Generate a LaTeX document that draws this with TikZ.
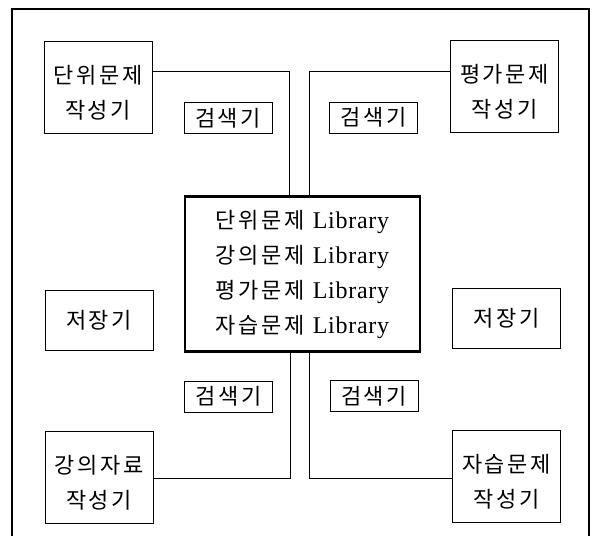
\documentclass[tikz,border=0pt]{standalone}
\usepackage{fontspec}
\setmainfont{Liberation Serif}
\newfontfamily\kr{Noto Sans CJK KR}[LetterSpace=12]
\newfontfamily\lat{Liberation Serif}[LetterSpace=3]
\newcommand\lowerstrut{\rule{0pt}{29pt}}
\begin{document}
\begin{tikzpicture}[x=1pt,y=-1pt,
  box/.style={draw,line width=0.8pt,inner sep=0pt,align=center,font=\kr\fontsize{22}{35}\selectfont},
  srch/.style={box,minimum width=88pt,minimum height=31pt},
  gen/.style={box,minimum width=108pt,minimum height=92pt},
  store/.style={box,minimum width=108pt,minimum height=60pt},
  lib/.style={draw,line width=2.4pt,inner sep=0pt,align=center,minimum width=235pt,minimum height=155pt,font=\fontsize{22}{35}\selectfont},
  conn/.style={line width=0.8pt}]
\useasboundingbox (0,0) rectangle (596,535);
\fill[white] (0,0) rectangle (596,535);
% outer frame (bottom edge outside the picture)
\draw[line width=2.4pt] (12,545) -- (12,9) -- (589,9) -- (589,545);
% nodes
\node[gen] (tl) at (98,87.5) {\lowerstrut 단위문제\\작성기};
\node[gen] (tr) at (504.5,86) {\lowerstrut 평가문제\\작성기};
\node[gen] (bl) at (99,477) {\lowerstrut 강의자료\\작성기};
\node[gen] (br) at (506.5,476.5) {\lowerstrut 자습문제\\작성기};
\node[store] (sl) at (99,320) {저장기};
\node[store] (sr) at (506.5,318) {저장기};
\node[srch] (s1) at (228,118) {검색기};
\node[srch] (s2) at (373.5,117.5) {검색기};
\node[srch] (s3) at (228.5,396.5) {검색기};
\node[srch] (s4) at (374,396) {검색기};
\node[lib] (lib) at (302.5,274) {{\kr 단위문제}\hspace{8pt}{\lat\fontsize{24}{35}\selectfont Library}\\{\kr 강의문제}\hspace{8pt}{\lat\fontsize{24}{35}\selectfont Library}\\{\kr 평가문제}\hspace{8pt}{\lat\fontsize{24}{35}\selectfont Library}\\{\kr 자습문제}\hspace{8pt}{\lat\fontsize{24}{35}\selectfont Library}};
% junction points
\coordinate (j1) at (289,71);
\coordinate (j2) at (309,71);
\coordinate (j3) at (290,478);
\coordinate (j4) at (309,478);
% connectors
\draw[conn] (tl.east |- j1) -- (j1) -- (j1 |- lib.north);
\draw[conn] (tr.west |- j2) -- (j2) -- (j2 |- lib.north);
\draw[conn] (bl.east |- j3) -- (j3) -- (j3 |- lib.south);
\draw[conn] (br.west |- j4) -- (j4) -- (j4 |- lib.south);
\end{tikzpicture}
\end{document}
